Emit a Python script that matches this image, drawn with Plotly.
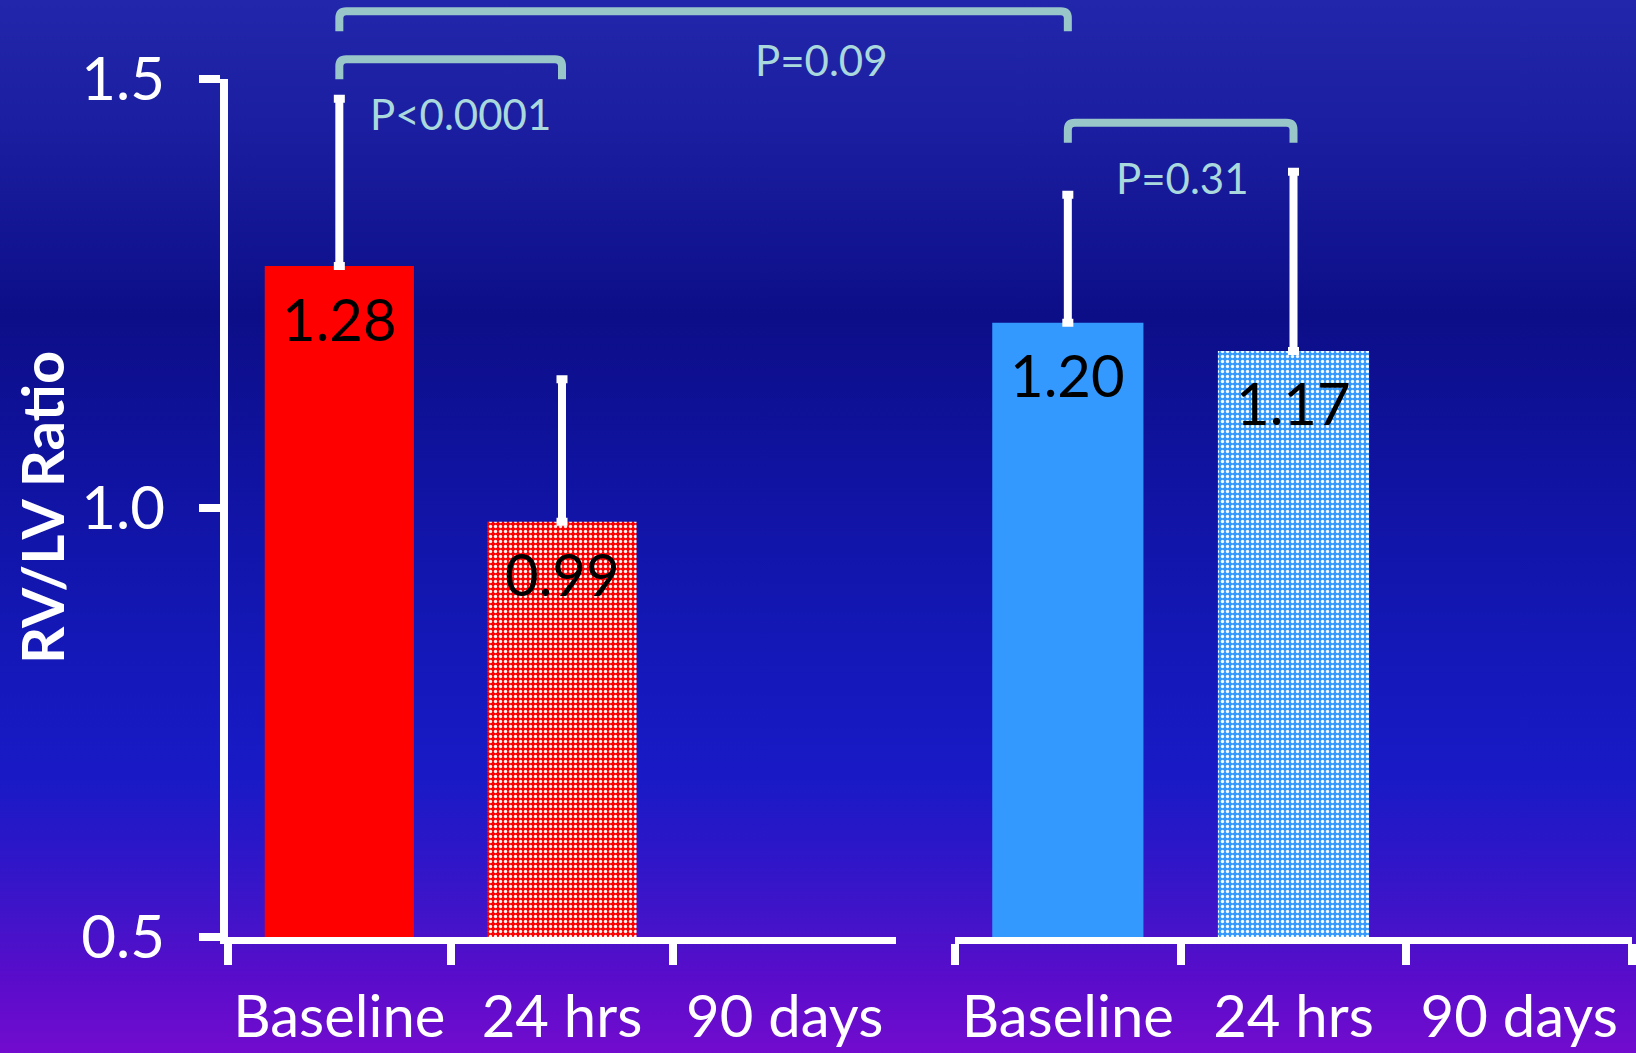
import base64
import plotly.graph_objects as go

# ---------------- data ----------------
categories = ["Baseline", "24 hrs", "90 days"]

red_values = [1.282, 0.984, None]
red_err_plus = [0.195, 0.166, None]
red_labels = ["1.28", "0.99", None]

blue_values = [1.216, 1.183, None]
blue_err_plus = [0.149, 0.209, None]
blue_labels = ["1.20", "1.17", None]

y_tickvals = [0.5, 1.0, 1.5]
y_ticktext = ["0.5", "1.0", "1.5"]
y_title = "RV/LV Ratio"

# significance brackets: (axis, category index) endpoints, top height (data units)
bracket_start = [("x", 0), ("x", 0), ("x2", 0)]
bracket_end = [("x", 1), ("x2", 0), ("x2", 1)]
bracket_top = [1.523, 1.579, 1.449]
p_texts = ["P<0.0001", "P=0.09", "P=0.31"]
p_text_y = [1.459, 1.522, 1.385]
p_text_xpx = [461, 821, 1182]

# ---------------- layout constants ----------------
W, H = 1636, 1053
T, Bm = 79, 116
PH = H - T - Bm
X1_DOM = [228 / W, 896 / W]
X2_DOM = [955 / W, 1632 / W]
YMIN, YMAX = 0.5, 1.5
FONT = "Lato"
WHITE = "#FFFFFF"
TEAL = "#98C6C9"
PTXT = "#A9D8DD"


def cat_paper(axis, idx):
    d = X1_DOM if axis == "x" else X2_DOM
    return d[0] + (idx + 0.5) / len(categories) * (d[1] - d[0])


def y_paper(v):
    return (v - YMIN) / (YMAX - YMIN)


# ---------------- background gradient ----------------
stops = [
    (0.00, "#2226AA"), (0.12, "#1B1EA0"), (0.30, "#0C0E88"), (0.45, "#1013A0"),
    (0.65, "#1519BC"), (0.74, "#191AC6"), (0.82, "#3016C8"), (0.88, "#4513C9"),
    (0.93, "#5A0CCB"), (1.00, "#720CCE"),
]
stop_xml = "".join(f'<stop offset="{o}" stop-color="{c}"/>' for o, c in stops)
svg = (f'<svg xmlns="http://www.w3.org/2000/svg" width="{W}" height="{H}" '
       f'viewBox="0 0 {W} {H}" preserveAspectRatio="none"><defs>'
       f'<linearGradient id="g" x1="0" y1="0" x2="0" y2="1">{stop_xml}</linearGradient>'
       f'</defs><rect width="{W}" height="{H}" fill="url(#g)"/></svg>')
bg_src = "data:image/svg+xml;base64," + base64.b64encode(svg.encode()).decode()

# ---------------- traces ----------------
fig = go.Figure()


def bar_marker(color):
    return dict(color=color, line=dict(width=0),
                pattern=dict(shape=["", ".", ""], fillmode="overlay",
                             fgcolor="white", fgopacity=0.95,
                             size=5, solidity=0.35))


fig.add_trace(go.Bar(
    x=categories, y=red_values, xaxis="x", yaxis="y",
    marker=bar_marker("#FF0000"),
    error_y=dict(type="data", symmetric=False, array=red_err_plus,
                 arrayminus=[0, 0, 0], color=WHITE, thickness=8, width=5.5),
    hoverinfo="skip", showlegend=False,
))
fig.add_trace(go.Bar(
    x=categories, y=blue_values, xaxis="x2", yaxis="y",
    marker=bar_marker("#3399FF"),
    error_y=dict(type="data", symmetric=False, array=blue_err_plus,
                 arrayminus=[0, 0, 0], color=WHITE, thickness=8, width=5.5),
    hoverinfo="skip", showlegend=False,
))

# ---------------- annotations ----------------
ann = []
for axis, vals, labs in (("x", red_values, red_labels), ("x2", blue_values, blue_labels)):
    for c, v, t in zip(categories, vals, labs):
        if v is None:
            continue
        ann.append(dict(x=c, y=v, xref=axis, yref="y", text=t, showarrow=False,
                        yanchor="middle", yshift=-52,
                        font=dict(family=FONT, size=58, color="black")))

for t, yv, xp in zip(p_texts, p_text_y, p_text_xpx):
    ann.append(dict(x=xp / W, y=y_paper(yv), xref="paper", yref="paper", text=t,
                    showarrow=False, xanchor="center", yanchor="middle",
                    font=dict(family=FONT, size=42, color=PTXT)))

ann.append(dict(x=41 / W, y=0.5, xref="paper", yref="paper", text=y_title,
                showarrow=False, textangle=-90, xanchor="center", yanchor="middle",
                font=dict(family=FONT, size=58, color=WHITE, weight="bold")))

# ---------------- bracket shapes ----------------
shapes = []
leg = 20 / PH
rx, ry = 7 / W, 7 / PH
for (a0, i0), (a1, i1), top in zip(bracket_start, bracket_end, bracket_top):
    xl, xr = cat_paper(a0, i0), cat_paper(a1, i1)
    yt = y_paper(top)
    yb = yt - leg
    path = (f"M{xl},{yb} L{xl},{yt - ry} Q{xl},{yt} {xl + rx},{yt} "
            f"L{xr - rx},{yt} Q{xr},{yt} {xr},{yt - ry} L{xr},{yb}")
    shapes.append(dict(type="path", path=path, xref="paper", yref="paper",
                       line=dict(color=TEAL, width=8), layer="above"))

# ---------------- layout ----------------
xaxis_common = dict(
    type="category", categoryorder="array", categoryarray=categories,
    range=[-0.5, 2.5], showline=True, linecolor=WHITE, linewidth=7,
    ticks="outside", tickson="boundaries", ticklen=21, tickwidth=8, tickcolor=WHITE,
    tickfont=dict(family=FONT, size=58, color=WHITE), ticklabelstandoff=23,
    tickangle=0,
    showgrid=False, zeroline=False, anchor="y", fixedrange=True, automargin=False,
)

fig.update_layout(
    width=W, height=H,
    margin=dict(l=0, r=0, t=T, b=Bm, pad=0, autoexpand=False),
    paper_bgcolor="#1A1CB0", plot_bgcolor="rgba(0,0,0,0)",
    bargap=0.33,
    xaxis=dict(domain=X1_DOM, **xaxis_common),
    xaxis2=dict(domain=X2_DOM, **xaxis_common),
    yaxis=dict(domain=[0, 1], range=[YMIN, YMAX], anchor="x",
               tickmode="array", tickvals=y_tickvals, ticktext=y_ticktext,
               ticks="outside", ticklen=21, tickwidth=8, tickcolor=WHITE,
               showline=True, linecolor=WHITE, linewidth=8,
               tickfont=dict(family=FONT, size=60, color=WHITE), ticklabelstandoff=22,
               showgrid=False, zeroline=False, fixedrange=True, automargin=False),
    images=[dict(source=bg_src, xref="paper", yref="paper", x=0, y=1 + T / PH,
                 sizex=1, sizey=H / PH, xanchor="left", yanchor="top",
                 sizing="stretch", layer="below")],
    annotations=ann,
    shapes=shapes,
)

fig.write_html("out.html", config={"displayModeBar": False})
